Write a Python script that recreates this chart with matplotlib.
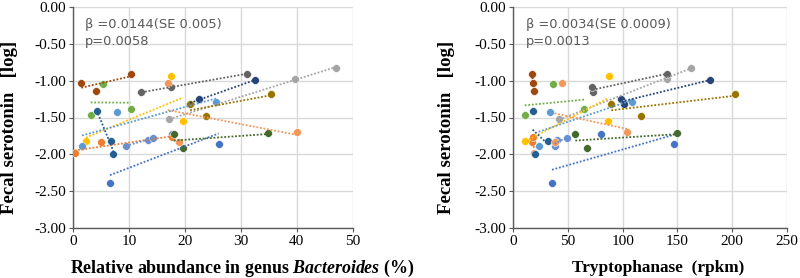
import numpy as np
import matplotlib
matplotlib.use("Agg")
import matplotlib.pyplot as plt

plt.rcParams["mathtext.fontset"] = "custom"
plt.rcParams["mathtext.bfit"] = "Liberation Serif:italic:bold"
plt.rcParams["mathtext.it"] = "Liberation Serif:italic"
plt.rcParams["mathtext.bf"] = "Liberation Serif:bold"
plt.rcParams["mathtext.rm"] = "Liberation Serif"

# ---- data (Excel series order) ----
colors = ["#4472C4", "#ED7D31", "#A5A5A5", "#FFC000", "#5B9BD5", "#70AD47",
          "#264478", "#9E480E", "#636363", "#997300", "#255E91", "#43682B",
          "#698ED0", "#F1975A"]

bact_x = [
    [6.56, 26.0, 17.6],     # blue
    [0.24, 5.0, 17.7],      # orange
    [17.2, 39.7, 47.1],     # gray
    [17.4, 19.6, 2.27],     # yellow
    [1.56, 7.76, 25.5],     # light blue
    [5.37, 3.1, 10.26],     # green
    [22.5, 32.5, 20.9],     # dark blue
    [1.43, 4.06, 10.38],    # brown
    [12.2, 17.4, 31.0],     # dark gray
    [20.9, 23.8, 35.3],     # dark gold
    [4.18, 6.69, 7.16],     # dark blue 2
    [18.0, 19.57, 34.8],    # dark green
    [9.4, 13.3, 14.2],      # medium blue
    [16.9, 40.0, 19.0],     # light orange
]
trp_x = [
    [35.4, 147.0, 80.3],
    [19.3, 17.1, 18.3],
    [42.0, 140.3, 162.2],
    [87.2, 86.2, 11.0],
    [23.2, 33.5, 108.6],
    [36.3, 10.4, 64.7],
    [98.8, 179.6, 101.2],
    [18.3, 19.2, 16.8],
    [72.6, 72.3, 140.3],
    [89.6, 116.5, 203.0],
    [17.7, 31.7, 19.8],
    [56.7, 67.0, 150.0],
    [37.8, 39.6, 49.4],
    [44.5, 104.3, 37.8],
]
serotonin = [
    [-2.39, -1.855, -1.72],
    [-1.99, -1.84, -1.77],
    [-1.525, -0.975, -0.82],
    [-0.93, -1.55, -1.82],
    [-1.885, -1.425, -1.29],
    [-1.04, -1.47, -1.38],
    [-1.25, -0.99, -1.31],
    [-1.03, -1.14, -0.91],
    [-1.155, -1.09, -0.905],
    [-1.31, -1.475, -1.175],
    [-1.41, -1.82, -1.995],
    [-1.72, -1.91, -1.715],
    [-1.885, -1.81, -1.775],
    [-1.035, -1.70, -1.83],
]

stats_left = ["\u03b2 =0.0144(SE 0.005)", "p=0.0058"]
stats_right = ["\u03b2 =0.0034(SE 0.0009)", "p=0.0013"]

yticks = [0.0, -0.5, -1.0, -1.5, -2.0, -2.5, -3.0]

serif = "Liberation Serif"

fig = plt.figure(figsize=(8, 2.78), dpi=100)
axL = fig.add_axes([73.3 / 800, 50.3 / 278, 279.4 / 800, 220.4 / 278])
axR = fig.add_axes([513.3 / 800, 50.3 / 278, 273.4 / 800, 220.4 / 278])


def draw(ax, xs_all, xmax, xstep, stats, tx):
    for c, xs, ys in zip(colors, xs_all, serotonin):
        xs = np.array(xs)
        ys = np.array(ys)
        ax.scatter(xs, ys, s=32, color=c, edgecolor="white", linewidth=0.4,
                   zorder=3)
        k, b = np.polyfit(xs, ys, 1)
        xl = np.array([xs.min(), xs.max()])
        ax.plot(xl, k * xl + b, color=c, lw=1.3, ls=(0, (1, 1)), zorder=4)
    ax.set_xlim(0, xmax)
    ax.set_ylim(-3, 0)
    ax.set_xticks(np.arange(0, xmax + 1, xstep))
    ax.set_yticks(yticks)
    ax.set_yticklabels([f"{v:.2f}" for v in yticks])
    ax.grid(True, color="#D9D9D9", lw=1.0)
    ax.set_axisbelow(True)
    for s in ["top", "right"]:
        ax.spines[s].set_visible(False)
    for s in ["left", "bottom"]:
        ax.spines[s].set_color("#595959")
        ax.spines[s].set_linewidth(1.0)
    ax.tick_params(axis="both", length=3, width=0.8, color="#595959",
                   labelsize=11, pad=2)
    for lab in ax.get_xticklabels() + ax.get_yticklabels():
        lab.set_fontfamily(serif)
    ax.set_ylabel("Fecal serotonin   [log]", fontfamily=serif,
                  fontweight="bold", fontsize=13.5)
    ax.text(tx, 0.924, stats[0], transform=ax.transAxes, fontsize=9.4,
            color="#595959", family=["DejaVu Sans"], va="center")
    ax.text(tx, 0.847, stats[1], transform=ax.transAxes, fontsize=9.4,
            color="#595959", family=["DejaVu Sans"], va="center")


draw(axL, bact_x, 50, 10, stats_left, 0.042)
draw(axR, trp_x, 250, 50, stats_right, 0.046)

axL.yaxis.set_label_coords(-0.198, 0.455)
axR.yaxis.set_label_coords(-0.213, 0.455)

fig.text(242 / 800, 10 / 278,
         r"Relative abundance in genus $\mathbfit{Bacteroides}$ (%)",
         ha="center", va="center", fontsize=12.9, fontweight="bold",
         fontfamily=serif)
fig.text(658 / 800, 10 / 278, "Tryptophanase  (rpkm)",
         ha="center", va="center", fontsize=12.4, fontweight="bold",
         fontfamily=serif)

fig.savefig("out.png", dpi=100)
